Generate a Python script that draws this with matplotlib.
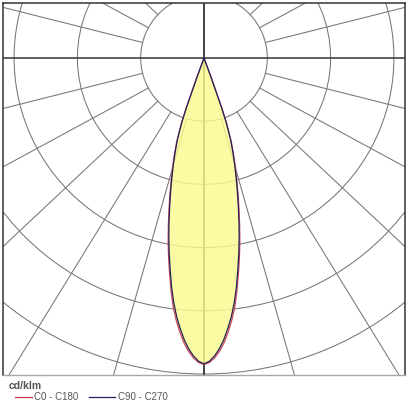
import numpy as np
import matplotlib.pyplot as plt
from matplotlib.lines import Line2D
from matplotlib.patches import Circle

# gamma angle from nadir (deg) and luminous intensity (cd/klm), symmetric curves
gamma = [0, 1, 2, 3, 4, 5, 6, 7, 8, 9, 10, 11, 12, 13, 14, 15, 16, 17, 18, 19,
         19.5, 20, 20.5, 25, 30, 45, 60, 75, 90]
c0_c180 = [2425, 2410, 2375, 2325, 2260, 2180, 2090, 1990, 1865, 1735, 1610,
           1485, 1355, 1230, 1115, 1000, 900, 800, 700, 550, 425, 175, 0,
           0, 0, 0, 0, 0, 0]
c90_c270 = [2420, 2400, 2360, 2305, 2235, 2150, 2060, 1955, 1835, 1705, 1580,
            1455, 1330, 1205, 1090, 980, 880, 780, 680, 535, 410, 165, 0,
            0, 0, 0, 0, 0, 0]

ring_step = 500          # cd/klm per grid circle
rings = [1, 2, 3, 4, 5]
spoke_angles = [a for a in range(-165, 180, 15) if a not in (-90, 0, 90)]
legend_labels = ['C0 - C180', 'C90 - C270']
unit = 'cd/klm'

W = 407
fig = plt.figure(figsize=(W / 100, W / 100), dpi=100)
ring_px = 63.3
ax = fig.add_axes([3 / W, 32 / W, 402 / W, 372 / W])
ax.set_xlim(-201 / ring_px, 201 / ring_px)
ax.set_ylim(-317.5 / ring_px, 55 / ring_px)
ax.set_xticks([])
ax.set_yticks([])
for s in ['left', 'top', 'right']:
    ax.spines[s].set_color('#333333')
    ax.spines[s].set_linewidth(1.1)
ax.spines['bottom'].set_color('#a8a8a8')
ax.spines['bottom'].set_linewidth(1.0)

grid_c = '#767676'
for r in rings:
    ax.add_patch(Circle((0, 0), r, fill=False, ec=grid_c, lw=0.75, zorder=1))

# spokes start at the first circle (drawn slightly flattened, like the source)
for a in spoke_angles:
    t = np.radians(a)
    d = np.array([np.sin(t), -0.94 * np.cos(t)])
    d = d / np.hypot(*d)
    ax.plot([d[0] * rings[0], d[0] * 10], [d[1] * rings[0], d[1] * 10],
            color=grid_c, lw=0.75, zorder=1)

ax.axhline(0, color='#333333', lw=1.1, zorder=2)
ax.axvline(0, color='#333333', lw=1.3, zorder=2)

g = np.radians(gamma)
g_full = np.concatenate([-g[::-1], g[1:]])


def curve(vals):
    v = np.array(vals, dtype=float) / ring_step
    v_full = np.concatenate([v[::-1], v[1:]])
    return v_full * np.sin(g_full), -v_full * np.cos(g_full)


x0, y0 = curve(c0_c180)
x1, y1 = curve(c90_c270)
ax.fill(x0, y0, color='#fbfb90', alpha=0.82, lw=0, zorder=3)
ax.plot(x0, y0, color='#d04a5a', lw=0.9, zorder=4)
ax.plot(x1, y1, color='#22225a', lw=0.9, zorder=5)

# legend below the box
fig.text(8.5 / W, 1 - 386 / W, unit, fontsize=7.5, fontweight='bold',
         color='#555555', family='Liberation Sans', va='center', ha='left')
leg_y = 1 - 397.3 / W
for (xa, xb, xt), lab, col in zip([(15, 32, 34.5), (89, 115, 118.5)],
                                  legend_labels, ['#c83a4a', '#22225a']):
    fig.add_artist(Line2D([xa / W, xb / W], [leg_y, leg_y], color=col, lw=0.9))
    fig.text(xt / W, leg_y, lab, fontsize=7, color='#555555',
             family='Liberation Sans', va='center', ha='left')

fig.savefig('out.png', dpi=100)
